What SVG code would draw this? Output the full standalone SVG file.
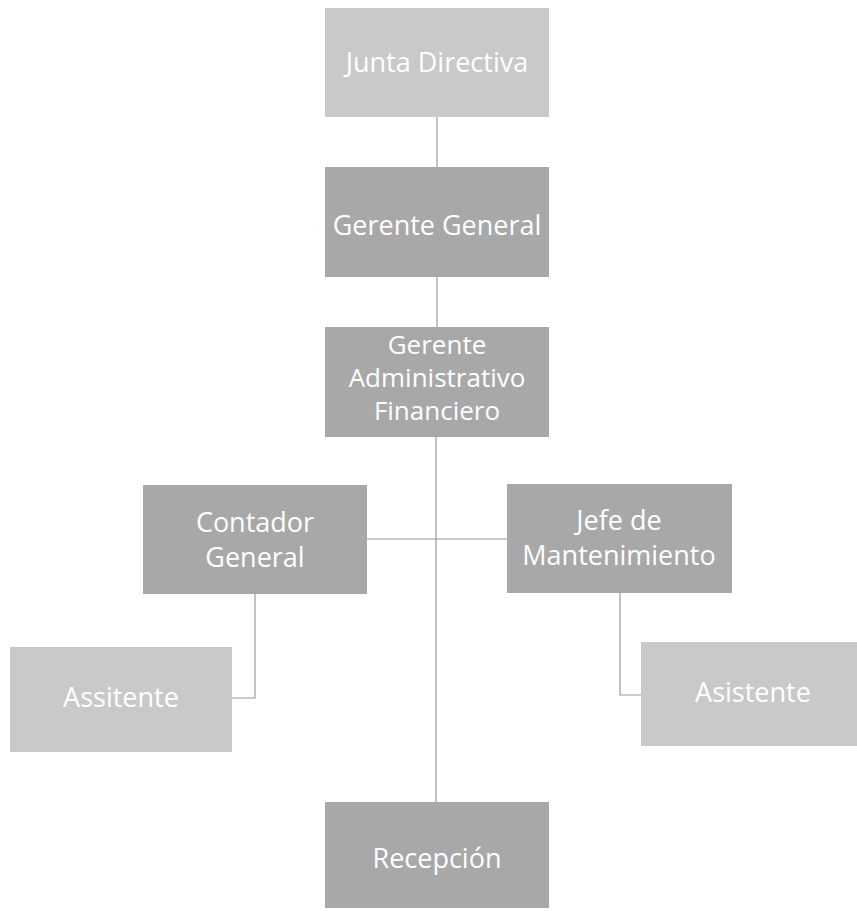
<svg xmlns="http://www.w3.org/2000/svg" width="857" height="911" viewBox="0 0 857 911">
<style>
.box{stroke:none}
.light{fill:#c9c9c9}
.dark{fill:#a8a8a8}
text{font-family:"Open Sans","Liberation Sans",sans-serif;font-size:27px;fill:#ffffff;text-anchor:middle}
.sm{font-size:26px}
.conn{stroke:#9a9a9a;stroke-width:1.2;fill:none}
</style>
<rect width="857" height="911" fill="#ffffff"/>
<g id="connectors">
<line class="conn" x1="437" y1="117" x2="437" y2="167"/>
<line class="conn" x1="437" y1="277" x2="437" y2="327"/>
<line class="conn" x1="436" y1="437" x2="436" y2="802"/>
<line class="conn" x1="367" y1="539" x2="507" y2="539"/>
<polyline class="conn" points="255,594 255,698 232,698"/>
<polyline class="conn" points="620,593 620,695 641,695"/>
</g>
<g id="junta"><rect class="box light" x="325" y="8" width="224" height="109"/><text x="437" y="72">Junta Directiva</text></g>
<g id="gerente-general"><rect class="box dark" x="325" y="167" width="224" height="110"/><text x="437" y="235">Gerente General</text></g>
<g id="gerente-admin"><rect class="box dark" x="325" y="327" width="224" height="110"/><text class="sm" x="437" y="354">Gerente</text><text class="sm" x="437" y="387">Administrativo</text><text class="sm" x="437" y="420">Financiero</text></g>
<g id="contador"><rect class="box dark" x="143" y="485" width="224" height="109"/><text x="255" y="532">Contador</text><text x="255" y="567">General</text></g>
<g id="jefe"><rect class="box dark" x="507" y="484" width="225" height="109"/><text x="619" y="530">Jefe de</text><text x="619" y="565">Mantenimiento</text></g>
<g id="asistente-contador"><rect class="box light" x="10" y="647" width="222" height="105"/><text x="121" y="707">Assitente</text></g>
<g id="asistente-mant"><rect class="box light" x="641" y="642" width="222" height="104"/><text x="753" y="702">Asistente</text></g>
<g id="recepcion"><rect class="box dark" x="325" y="802" width="224" height="106"/><text x="437" y="868">Recepción</text></g>
</svg>
